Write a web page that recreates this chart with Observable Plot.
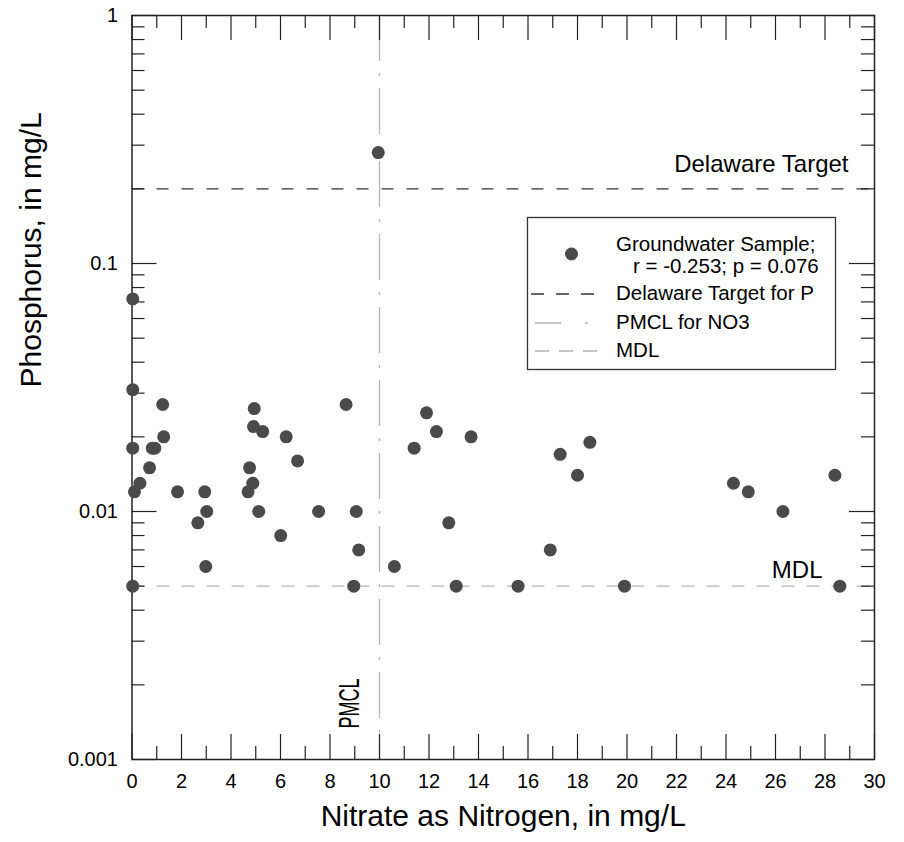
<!DOCTYPE html>
<html>
<head>
<meta charset="utf-8">
<script src="https://cdn.jsdelivr.net/npm/d3@7"></script>
<script src="https://cdn.jsdelivr.net/npm/@observablehq/plot@0.6"></script>
<style>
  body { margin: 0; background: #fff; }
  #chart { position: relative; width: 904px; height: 842px; }
  #chart svg { display: block; }
</style>
</head>
<body>
<div id="chart"></div>
<script>
// ---- data ----
const nitrate = [
  0.03, 0.03, 1.24, 0.03, 0.82, 0.92, 1.28, 0.71, 0.32, 0.10,
  1.84, 2.94, 3.02, 2.66, 2.98, 0.03, 4.94, 4.91, 5.28, 6.23,
  6.69, 4.75, 4.88, 4.69, 5.12, 7.54, 6.01, 8.65, 9.06, 9.16,
  10.6, 8.96, 11.9, 12.3, 11.4, 13.7, 12.8, 13.1, 15.6, 19.9,
  17.3, 18.5, 18.0, 16.9, 24.3, 24.9, 26.3, 28.4, 28.6, 9.95
];
const phosphorus = [
  0.072, 0.031, 0.027, 0.018, 0.018, 0.018, 0.020, 0.015, 0.013, 0.012,
  0.012, 0.012, 0.010, 0.009, 0.006, 0.005, 0.026, 0.022, 0.021, 0.020,
  0.016, 0.015, 0.013, 0.012, 0.010, 0.010, 0.008, 0.027, 0.010, 0.007,
  0.006, 0.005, 0.025, 0.021, 0.018, 0.020, 0.009, 0.005, 0.005, 0.005,
  0.017, 0.019, 0.014, 0.007, 0.013, 0.012, 0.010, 0.014, 0.005, 0.28
];
const xMajorTicks = [0, 2, 4, 6, 8, 10, 12, 14, 16, 18, 20, 22, 24, 26, 28, 30];
const xMinorTicks = [1, 3, 5, 7, 9, 11, 13, 15, 17, 19, 21, 23, 25, 27, 29];
const yMajorTicks = [0.001, 0.01, 0.1, 1];
const yMajorLabels = ["0.001", "0.01", "0.1", "1"];
const yMinorTicks = [
  0.002, 0.003, 0.004, 0.005, 0.006, 0.007, 0.008, 0.009,
  0.02, 0.03, 0.04, 0.05, 0.06, 0.07, 0.08, 0.09,
  0.2, 0.3, 0.4, 0.5, 0.6, 0.7, 0.8, 0.9
];
const delawareTarget = 0.2;
const mdl = 0.005;
const pmcl = 10;
const legendLabels = ["Groundwater Sample;", "r = -0.253; p = 0.076", "Delaware Target for P", "PMCL for NO3", "MDL"];

const samples = nitrate.map((n, i) => ({n, p: phosphorus[i]}));

// ---- layout ----
const W = 904, H = 842;
const mL = 131.5, mR = 30, mT = 15, mB = 83;
const FW = W - mL - mR, FH = H - mT - mB;
const MAJ = 25, MIN = 13;
const tickStroke = "#222";
const font = "'Liberation Sans', Arial, Helvetica, sans-serif";

const plot = Plot.plot({
  width: W, height: H,
  marginLeft: mL, marginRight: mR, marginTop: mT, marginBottom: mB,
  style: {fontFamily: font, fontSize: "20px", color: "#000", background: "#fff"},
  x: {domain: [0, 30], label: null},
  y: {type: "log", domain: [0.001, 1], label: null},
  marks: [
    // reference lines
    Plot.ruleY([mdl], {stroke: "#b4b4b4", strokeWidth: 1.3, strokeDasharray: "13,12"}),
    Plot.ruleX([pmcl], {stroke: "#b4b4b4", strokeWidth: 1.3, strokeDasharray: "46,12,3,12"}),
    Plot.ruleY([delawareTarget], {stroke: "#333", strokeWidth: 1.3, strokeDasharray: "12,13"}),
    // inward ticks: bottom/top
    Plot.tickX(xMajorTicks, {x: d => d, insetTop: FH - MAJ, stroke: tickStroke, strokeWidth: 1.2}),
    Plot.tickX(xMinorTicks, {x: d => d, insetTop: FH - MIN, stroke: tickStroke, strokeWidth: 1.2}),
    Plot.tickX(xMajorTicks, {x: d => d, insetBottom: FH - MAJ, stroke: tickStroke, strokeWidth: 1.2}),
    Plot.tickX(xMinorTicks, {x: d => d, insetBottom: FH - MIN, stroke: tickStroke, strokeWidth: 1.2}),
    // inward ticks: left/right
    Plot.tickY(yMajorTicks, {y: d => d, insetRight: FW - MAJ, stroke: tickStroke, strokeWidth: 1.2}),
    Plot.tickY(yMinorTicks, {y: d => d, insetRight: FW - MIN, stroke: tickStroke, strokeWidth: 1.2}),
    Plot.tickY(yMajorTicks, {y: d => d, insetLeft: FW - MAJ, stroke: tickStroke, strokeWidth: 1.2}),
    Plot.tickY(yMinorTicks, {y: d => d, insetLeft: FW - MIN, stroke: tickStroke, strokeWidth: 1.2}),
    Plot.frame({stroke: "#222", strokeWidth: 1.5}),
    // tick labels
    Plot.axisX({ticks: xMajorTicks, tickSize: 0, tickPadding: 14, tickFormat: d => String(d), label: null, fontSize: 20}),
    Plot.axisY({ticks: yMajorTicks, tickSize: 0, tickPadding: 14, tickFormat: d => yMajorLabels[yMajorTicks.indexOf(d)], label: null, fontSize: 20}),
    // axis titles
    Plot.text(["Nitrate as Nitrogen, in mg/L"], {frameAnchor: "bottom", dy: 66, fontSize: 30, fill: "#000"}),
    Plot.text(["Phosphorus, in mg/L"], {frameAnchor: "left", dx: -101, rotate: -90, fontSize: 30, fill: "#000"}),
    // annotations
    Plot.text(["Delaware Target"], {x: 28.95, y: delawareTarget, dy: -25, textAnchor: "end", fontSize: 24, fill: "#000"}),
    Plot.text(["MDL"], {x: 27.9, y: mdl, dy: -16, textAnchor: "end", fontSize: 24, fill: "#000"}),
    Plot.text(["PMCL"], {x: pmcl, frameAnchor: "bottom", dx: -21, dy: -31, rotate: -90, textAnchor: "start", fontSize: 30, fill: "#000", className: "pmcl-label"}),
    // samples
    Plot.dot(samples, {x: "n", y: "p", r: 6.5, fill: "#4a4a4a", stroke: "none"})
  ]
});

document.getElementById("chart").appendChild(plot);

// condensed look of the PMCL label, as in the reference
d3.select(plot).selectAll(".pmcl-label text")
  .attr("textLength", 50).attr("lengthAdjust", "spacingAndGlyphs");

// ---- legend box ----
const svg = d3.select(plot);
const lg = svg.append("g").attr("font-family", font).attr("font-size", 20.5)
  .attr("fill", "#000").attr("text-anchor", "start");
lg.append("rect").attr("x", 527.5).attr("y", 217.5).attr("width", 308).attr("height", 152)
  .attr("fill", "#fff").attr("stroke", "#333").attr("stroke-width", 1.3);
lg.append("circle").attr("cx", 571.5).attr("cy", 254).attr("r", 6.5).attr("fill", "#4a4a4a");
lg.append("text").attr("x", 616).attr("y", 251).text(legendLabels[0]);
lg.append("text").attr("x", 633).attr("y", 273).text(legendLabels[1]);
lg.append("line").attr("x1", 531).attr("x2", 597).attr("y1", 294).attr("y2", 294)
  .attr("stroke", "#333").attr("stroke-width", 1.3).attr("stroke-dasharray", "13,12");
lg.append("text").attr("x", 616).attr("y", 300).text(legendLabels[2]);
lg.append("line").attr("x1", 535).attr("x2", 597).attr("y1", 323).attr("y2", 323)
  .attr("stroke", "#b4b4b4").attr("stroke-width", 1.3).attr("stroke-dasharray", "26,24,3,20");
lg.append("text").attr("x", 616).attr("y", 329).text(legendLabels[3]);
lg.append("line").attr("x1", 535).attr("x2", 597).attr("y1", 351).attr("y2", 351)
  .attr("stroke", "#b4b4b4").attr("stroke-width", 1.3).attr("stroke-dasharray", "14,10");
lg.append("text").attr("x", 616).attr("y", 357).text(legendLabels[4]);
</script>
</body>
</html>
